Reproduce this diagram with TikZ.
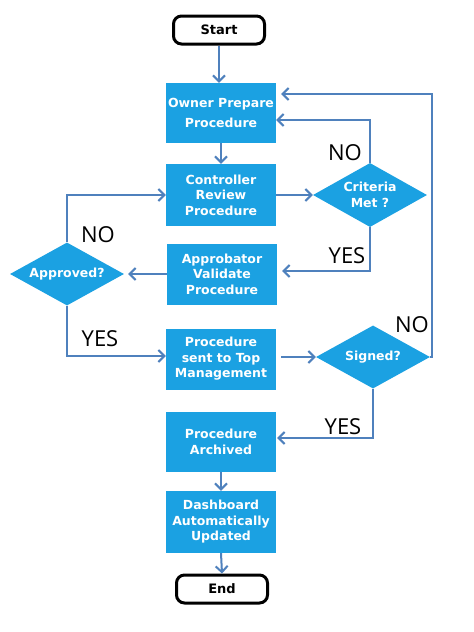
\documentclass[tikz,border=0pt]{standalone}
\usepackage{fontspec}
\setmainfont{DejaVu Sans}
\newfontfamily\lblfont{Open Sans}
\usetikzlibrary{shapes.geometric,arrows.meta}
\definecolor{boxblue}{RGB}{27,161,226}
\definecolor{lineblue}{RGB}{79,129,189}
\tikzset{
  procbox/.style={rectangle, fill=boxblue, text=white, font=\fontsize{12.5}{15.5}\selectfont\bfseries, align=center, inner sep=0pt, minimum width=110pt, minimum height=61pt},
  decbox/.style={diamond, fill=boxblue, text=white, font=\fontsize{12.5}{15.5}\selectfont\bfseries, align=center, inner sep=0pt, aspect=1.8, minimum width=114pt, minimum height=63pt},
  termbox/.style={rectangle, rounded corners=8pt, draw=black, line width=3pt, fill=white, font=\fontsize{13}{15}\selectfont\bfseries, minimum width=91pt, minimum height=28pt},
  arr/.style={draw=lineblue, line width=2pt, -{Straight Barb[length=6pt,width=12pt,line width=2pt]}},
  lbl/.style={font=\lblfont\fontsize{22}{24}\selectfont, text=black, inner sep=0pt}
}
\begin{document}
\begin{tikzpicture}[x=1pt,y=-1pt]
\useasboundingbox (0,0) rectangle (474,632);
\fill[white] (0,0) rectangle (474,632);
\node[termbox] (start) at (219,30) {Start};
\node[procbox, minimum height=60pt] (owner) at (221,113) {Owner Prepare\\[4.5pt]Procedure};
\node[procbox, minimum height=62pt] (ctrl) at (221,195) {Controller\\Review\\Procedure};
\node[decbox, minimum height=64pt] (crit) at (370,195) {Criteria\\Met ?};
\node[procbox] (appr) at (222,274) {Approbator\\Validate\\Procedure};
\node[decbox] (apd) at (67,274) {Approved?};
\node[procbox] (sent) at (221,359) {Procedure\\sent to Top\\Management};
\node[decbox] (signed) at (373,357) {Signed?};
\node[procbox, minimum height=60pt] (arch) at (221,442) {Procedure\\Archived};
\node[procbox, minimum height=62pt] (dash) at (221,522) {Dashboard\\Automatically\\Updated};
\node[termbox] (end) at (222,589) {End};
\coordinate (loopc) at (432,94);

\draw[arr] (start.south) -- (start.south |- owner.north);
\draw[arr] (owner.south) -- (ctrl.north);
\draw[arr] (ctrl.east) -- (crit.west);
\draw[arr] (crit.north) |- ([yshift=-7pt]owner.east);
\draw[arr] (signed.east) -| (loopc) -- ([xshift=5pt]owner.east |- loopc);
\draw[arr] (crit.south) |- ([xshift=5pt,yshift=3pt]appr.east);
\draw[arr] (appr.west) -- ([xshift=4pt]apd.east);
\draw[arr] (apd.north) |- (ctrl.west);
\draw[arr] (apd.south) |- ([yshift=3pt]sent.west);
\draw[arr] ([xshift=5pt]sent.east |- signed.west) -- (signed.west);
\draw[arr] (signed.south) |- ([xshift=1pt,yshift=4pt]arch.east);
\draw[arr] (arch.south) -- (dash.north);
\draw[arr] (dash.south) -- (end.north);

\node[lbl] (no1) at (345,153) {NO};
\node[lbl] (yes1) at (347,256) {YES};
\node[lbl] (no2) at (98,235) {NO};
\node[lbl] (yes2) at (100,339) {YES};
\node[lbl] (no3) at (412,325) {NO};
\node[lbl] (yes3) at (343,427) {YES};
\end{tikzpicture}
\end{document}
